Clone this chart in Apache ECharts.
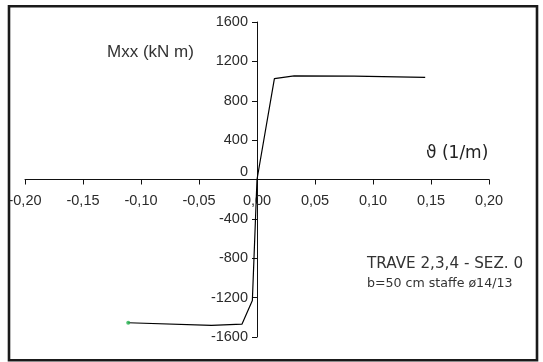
<!DOCTYPE html>
<html><head><meta charset="utf-8">
<script src="https://cdn.jsdelivr.net/npm/echarts@6/dist/echarts.min.js"></script>
<style>html,body{margin:0;padding:0;background:#fff}#c{width:543px;height:362px}</style>
</head><body><div id="c"></div>
<script>
// Moment-curvature curve (theta in 1/m, Mxx in kN m)
const theta = [-0.111, -0.0392, -0.013, -0.004, 0.0, 0.015, 0.032, 0.0837, 0.145];
const mxx   = [-1455, -1481, -1470, -1230, 0, 1025, 1052, 1050, 1038];
const startPoint = [[-0.111, -1455]];
const xTicks = {min: -0.2, max: 0.2, step: 0.05};
const yTicks = {min: -1600, max: 1600, step: 400};
const yTitle = 'Mxx (kN m)';
const xTitle = 'ϑ (1/m)';
const note1 = 'TRAVE 2,3,4 - SEZ. 0';
const note2 = 'b=50 cm staffe ø14/13';

const pts = theta.map((t, i) => [t, mxx[i]]);
const G = {left: 25, right: 54, top: 22, bottom: 25, W: 543, H: 362};
const gw = G.W - G.left - G.right, gh = G.H - G.top - G.bottom;
// place the axes through the origin
const yOff = -gw * (0 - xTicks.min) / (xTicks.max - xTicks.min);
const xOff = -gh * (0 - yTicks.min) / (yTicks.max - yTicks.min);
const chart = echarts.init(document.getElementById('c'), null, {renderer: 'canvas'});
const lblColor = '#2b2b2b';
chart.setOption({
  animation: false,
  backgroundColor: '#fff',
  grid: {left: G.left, right: G.right, top: G.top, bottom: G.bottom, outerBoundsMode: 'none', containLabel: false},
  xAxis: {
    type: 'value', min: xTicks.min, max: xTicks.max, interval: xTicks.step,
    position: 'bottom', offset: xOff,
    axisLine: {onZero: false, lineStyle: {color: '#111', width: 1}},
    axisTick: {show: true, length: 5, lineStyle: {color: '#111'}},
    splitLine: {show: false},
    axisLabel: {
      color: lblColor, fontFamily: 'Liberation Sans', fontSize: 14.5, margin: 14,
      formatter: v => v.toFixed(2).replace('.', ',')
    }
  },
  yAxis: {
    type: 'value', min: yTicks.min, max: yTicks.max, interval: yTicks.step,
    position: 'left', offset: yOff,
    axisLine: {onZero: false, lineStyle: {color: '#111', width: 1}},
    axisTick: {show: true, length: 5, lineStyle: {color: '#111'}},
    splitLine: {show: false},
    axisLabel: {
      color: lblColor, fontFamily: 'Liberation Sans', fontSize: 14.5, margin: 9,
      formatter: v => v === 0 ? '{z|0}' : String(v),
      rich: {z: {color: lblColor, fontFamily: 'Liberation Sans', fontSize: 14.5, padding: [0, 0, 16, 0]}}
    }
  },
  series: [
    {type: 'line', data: pts, symbol: 'none', lineStyle: {color: '#000', width: 1.2}, z: 3},
    {type: 'scatter', data: startPoint, symbol: 'circle', symbolSize: 4, itemStyle: {color: '#22b24c'}, z: 4}
  ],
  graphic: [
    {type: 'rect', shape: {x: 9, y: 6.2, width: 528, height: 354}, style: {fill: null, stroke: '#1a1a1a', lineWidth: 2.6}, z: 100},
    {type: 'text', left: 107, top: 44, style: {text: yTitle, fill: '#333', font: '17px "Liberation Sans"'}},
    {type: 'text', left: 426, top: 145, style: {text: xTitle, fill: '#222', font: '17px "DejaVu Sans"'}},
    {type: 'text', left: 367, top: 257, style: {text: note1, fill: '#333', font: '15.2px "DejaVu Sans"'}},
    {type: 'text', left: 367, top: 277, style: {text: note2, fill: '#333', font: '12.6px "DejaVu Sans"'}}
  ]
});
</script></body></html>
